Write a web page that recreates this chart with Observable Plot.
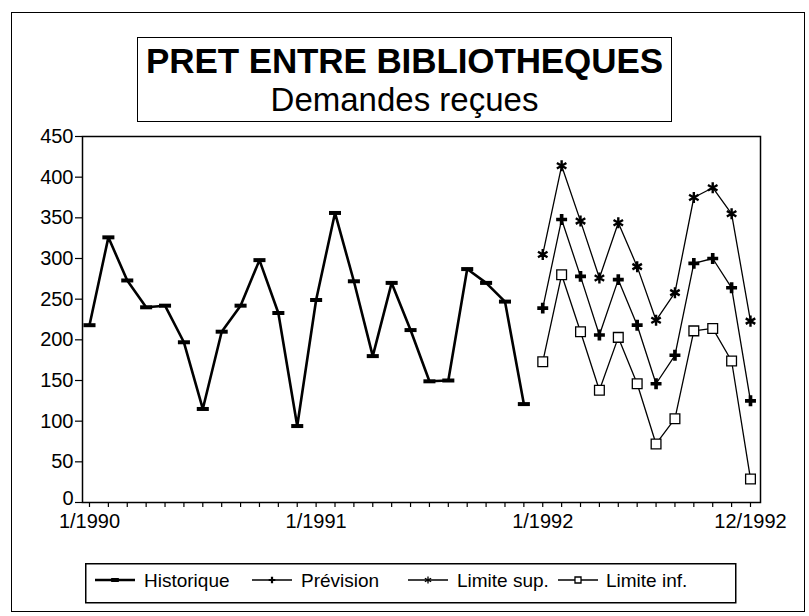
<!DOCTYPE html>
<html>
<head>
<meta charset="utf-8">
<script src="https://cdn.jsdelivr.net/npm/d3@7"></script>
<script src="https://cdn.jsdelivr.net/npm/@observablehq/plot@0.6"></script>
<style>
  html, body { margin: 0; padding: 0; background: #fff; }
  body { width: 809px; height: 616px; position: relative; overflow: hidden; font-family: "Liberation Sans", Arial, sans-serif; color: #000; }
  #frame { position: absolute; left: 11px; top: 12px; width: 792px; height: 598px; border: 1.5px solid #000; }
  #titlebox { position: absolute; left: 137px; top: 37px; width: 533px; height: 83px; border: 1.5px solid #000; text-align: center; }
  #title { font-weight: bold; font-size: 35px; line-height: 36px; margin-top: 5px; letter-spacing: -0.1px; }
  #subtitle { font-size: 33px; line-height: 36px; margin-top: 3px; }
  #chart { position: absolute; left: 0; top: 126px; }
  #legend { position: absolute; left: 85px; top: 563px; }
</style>
</head>
<body>
<div id="frame"></div>
<div id="titlebox">
  <div id="title">PRET ENTRE BIBLIOTHEQUES</div>
  <div id="subtitle">Demandes reçues</div>
</div>
<div id="chart"></div>
<div id="legend"></div>
<script>
// ---- Data ----
const histMonths = d3.range(0, 24);          // 1/1990 .. 12/1991
const forecastMonths = d3.range(24, 36);     // 1/1992 .. 12/1992
const historique = [218, 326, 273, 240, 242, 197, 115, 210, 242, 298, 233, 94,
                    249, 356, 272, 180, 270, 212, 149, 150, 287, 270, 247, 121];
const prevision  = [239, 348, 278, 206, 274, 218, 146, 181, 294, 300, 264, 125];
const limiteSup  = [305, 414, 346, 276, 344, 290, 224, 258, 375, 387, 355, 223];
const limiteInf  = [173, 280, 210, 138, 203, 146, 72, 103, 211, 214, 174, 29];
const xTickPositions = [0, 12, 24, 35];
const xTickLabels = ["1/1990", "1/1991", "1/1992", "12/1992"];
const yTicks = [0, 50, 100, 150, 200, 250, 300, 350, 400, 450];
const seriesNames = ["Historique", "Prévision", "Limite sup.", "Limite inf."];

// ---- Tables built from arrays ----
const histData = historique.map((v, i) => ({m: histMonths[i], v}));
const prevData = prevision.map((v, i) => ({m: forecastMonths[i], v}));
const supData = limiteSup.map((v, i) => ({m: forecastMonths[i], v}));
const infData = limiteInf.map((v, i) => ({m: forecastMonths[i], v}));
const labelMap = new Map(xTickPositions.map((p, i) => [p, xTickLabels[i]]));

// custom horizontal dash symbol
const dash = {
  draw(ctx, size) {
    const w = Math.sqrt(size) * 0.68, h = 2;
    ctx.moveTo(-w, -h); ctx.lineTo(w, -h); ctx.lineTo(w, h); ctx.lineTo(-w, h); ctx.closePath();
  }
};

const chart = Plot.plot({
  width: 809,
  height: 420,
  marginLeft: 82,
  marginRight: 49,
  marginTop: 10,
  marginBottom: 44,
  style: {fontFamily: "'Liberation Sans', Arial, sans-serif", fontSize: "20px", color: "#000", background: "transparent"},
  x: {domain: [-0.37, 35.53], axis: null},
  y: {domain: [0, 450], axis: null},
  marks: [
    Plot.axisY({ticks: yTicks, tickSize: 7, tickPadding: 2, fontSize: 20, label: null, stroke: "#000", strokeWidth: 1.2,
                tickFormat: d => d === 0 ? "" : String(d)}),
    Plot.axisY({ticks: yTicks.slice(0, 1), tickSize: 0, tickPadding: 9, fontSize: 20, label: null, dy: -4}),
    Plot.axisX({ticks: d3.range(0, 36), tickSize: 5, tickPadding: 6, fontSize: 20, label: null,
                tickFormat: d => labelMap.get(d) ?? "", stroke: "#000", strokeWidth: 1.2}),
    Plot.frame({stroke: "#000", strokeWidth: 1.5}),
    Plot.line(histData, {x: "m", y: "v", stroke: "#000", strokeWidth: 2.6}),
    Plot.dot(histData, {x: "m", y: "v", symbol: dash, r: 5, fill: "#000", stroke: "none"}),
    Plot.line(supData, {x: "m", y: "v", stroke: "#000", strokeWidth: 1.3}),
    Plot.dot(supData, {x: "m", y: "v", symbol: "asterisk", r: 5.2, stroke: "#000", strokeWidth: 2.4}),
    Plot.line(prevData, {x: "m", y: "v", stroke: "#000", strokeWidth: 1.3}),
    Plot.dot(prevData, {x: "m", y: "v", symbol: "cross", r: 4.6, fill: "#000", stroke: "none"}),
    Plot.line(infData, {x: "m", y: "v", stroke: "#000", strokeWidth: 1.3}),
    Plot.dot(infData, {x: "m", y: "v", symbol: "square", r: 5.5, fill: "#fff", stroke: "#000", strokeWidth: 1.3})
  ]
});
document.getElementById("chart").appendChild(chart);

// ---- Legend ----
const swatchDefs = [
  {name: seriesNames[0], w: 2.4, sym: dash, fill: "#000", stroke: "none", r: 3.2, sx: 10, tx: 59},
  {name: seriesNames[1], w: 1.3, sym: d3.symbolCross, fill: "#000", stroke: "none", r: 2.8, sx: 167, tx: 216},
  {name: seriesNames[2], w: 1.3, sym: d3.symbolAsterisk, fill: "none", stroke: "#000", r: 3.4, sx: 323, tx: 372},
  {name: seriesNames[3], w: 1.3, sym: d3.symbolSquare, fill: "#fff", stroke: "#000", r: 3.4, sx: 473, tx: 521}
];
const lsvg = d3.select("#legend").append("svg")
  .attr("width", 652).attr("height", 41)
  .style("font-family", "'Liberation Sans', Arial, sans-serif").style("font-size", "19px");
lsvg.append("rect").attr("x", 0.75).attr("y", 0.75).attr("width", 650).attr("height", 39)
  .attr("fill", "none").attr("stroke", "#000").attr("stroke-width", 1.5);
swatchDefs.forEach(s => {
  lsvg.append("line").attr("x1", s.sx).attr("x2", s.sx + 40).attr("y1", 17).attr("y2", 17)
    .attr("stroke", "#000").attr("stroke-width", s.w);
  lsvg.append("path").attr("transform", `translate(${s.sx + 20},17)`)
    .attr("d", d3.symbol(s.sym, Math.PI * s.r * s.r)())
    .attr("fill", s.fill).attr("stroke", s.stroke).attr("stroke-width", 1.3);
  lsvg.append("text").attr("x", s.tx).attr("y", 17).attr("dy", "0.35em").text(s.name);
});
</script>
</body>
</html>
